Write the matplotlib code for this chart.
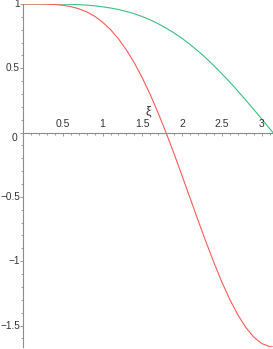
import matplotlib
matplotlib.use("Agg")
import matplotlib.pyplot as plt
from matplotlib.ticker import MultipleLocator
import matplotlib.transforms as mtransforms

# values (xi from 0 to pi)
xi = [0.0, 0.1, 0.2, 0.3, 0.4, 0.5, 0.6, 0.7, 0.8, 0.9,
      1.0, 1.1, 1.2, 1.3, 1.4, 1.5, 1.6, 1.7, 1.8, 1.9,
      2.0, 2.1, 2.2, 2.3, 2.4, 2.5, 2.6, 2.7, 2.8, 2.9,
      3.0, 3.1, 3.1416]
red_vals = [1.000, 1.000, 1.000, 0.999, 0.996, 0.990, 0.980, 0.963, 0.939, 0.905,
            0.859, 0.801, 0.729, 0.642, 0.541, 0.424, 0.294, 0.150, -0.004, -0.167,
            -0.337, -0.510, -0.682, -0.851, -1.012, -1.163, -1.299, -1.417, -1.515, -1.590,
            -1.640, -1.664, -1.667]
green_vals = [1.000, 1.000, 1.000, 1.000, 0.999, 0.999, 0.997, 0.995, 0.991, 0.986,
              0.978, 0.969, 0.957, 0.942, 0.924, 0.902, 0.876, 0.846, 0.812, 0.774,
              0.732, 0.685, 0.634, 0.579, 0.520, 0.457, 0.392, 0.323, 0.252, 0.180,
              0.106, 0.031, 0.000]

x_ticks = [0.5, 1, 1.5, 2, 2.5, 3]
x_tick_labels = ["0.5", "1", "1.5", "2", "2.5", "3"]
y_ticks = [1, 0.5, -0.5, -1, -1.5]
y_tick_labels = ["1", "0.5", "\u22120.5", "\u22121", "\u22121.5"]
x_label = "\u03be"

plt.rcParams['font.family'] = ['Liberation Sans', 'DejaVu Sans']

fig = plt.figure(figsize=(2.73, 3.49), dpi=100)
ax = fig.add_axes([23 / 273, 2 / 349, 250 / 273, 343 / 349])

ax.plot(xi, green_vals, color='#3cc080', lw=0.8)
ax.plot(xi, red_vals, color='#ff5a5a', lw=0.8)

ax.set_xlim(0, 3.1416)
ax.set_ylim(-1.667, 1.0)

axis_col = '#8c8c8c'
text_col = '#333333'
for side in ['top', 'right']:
    ax.spines[side].set_visible(False)
ax.spines['bottom'].set_position(('data', 0))
ax.spines['left'].set_position(('data', 0))
for side in ['bottom', 'left']:
    ax.spines[side].set_color(axis_col)
    ax.spines[side].set_linewidth(0.8)

ax.xaxis.set_major_locator(MultipleLocator(0.5))
ax.xaxis.set_minor_locator(MultipleLocator(0.1))
ax.yaxis.set_major_locator(MultipleLocator(0.5))
ax.yaxis.set_minor_locator(MultipleLocator(0.1))
ax.tick_params(which='both', direction='out', color=axis_col, width=0.6,
               labelbottom=False, labelleft=False)
ax.tick_params(which='major', length=2.4)
ax.tick_params(which='minor', length=1.6)

fs = 7.5
for x, lab in zip(x_ticks, x_tick_labels):
    ax.annotate(lab, (x, 0), xytext=(0, 2.5), textcoords='offset points',
                ha='center', va='bottom', fontsize=fs, color=text_col)
for y, lab in zip(y_ticks, y_tick_labels):
    ax.annotate(lab, (0, y), xytext=(-2.2, 0), textcoords='offset points',
                ha='right', va='center', fontsize=7.2, color=text_col)
ax.annotate("0", (0, 0), xytext=(-4, -4), textcoords='offset points',
            ha='right', va='center', fontsize=fs, color=text_col)

trans = mtransforms.blended_transform_factory(ax.transAxes, ax.transData)
ax.annotate(x_label, (0.5, 0), xycoords=trans, xytext=(0, 15.5),
            textcoords='offset points', ha='center', va='center',
            fontsize=9, color=text_col)

fig.savefig("out.png", dpi=100)
